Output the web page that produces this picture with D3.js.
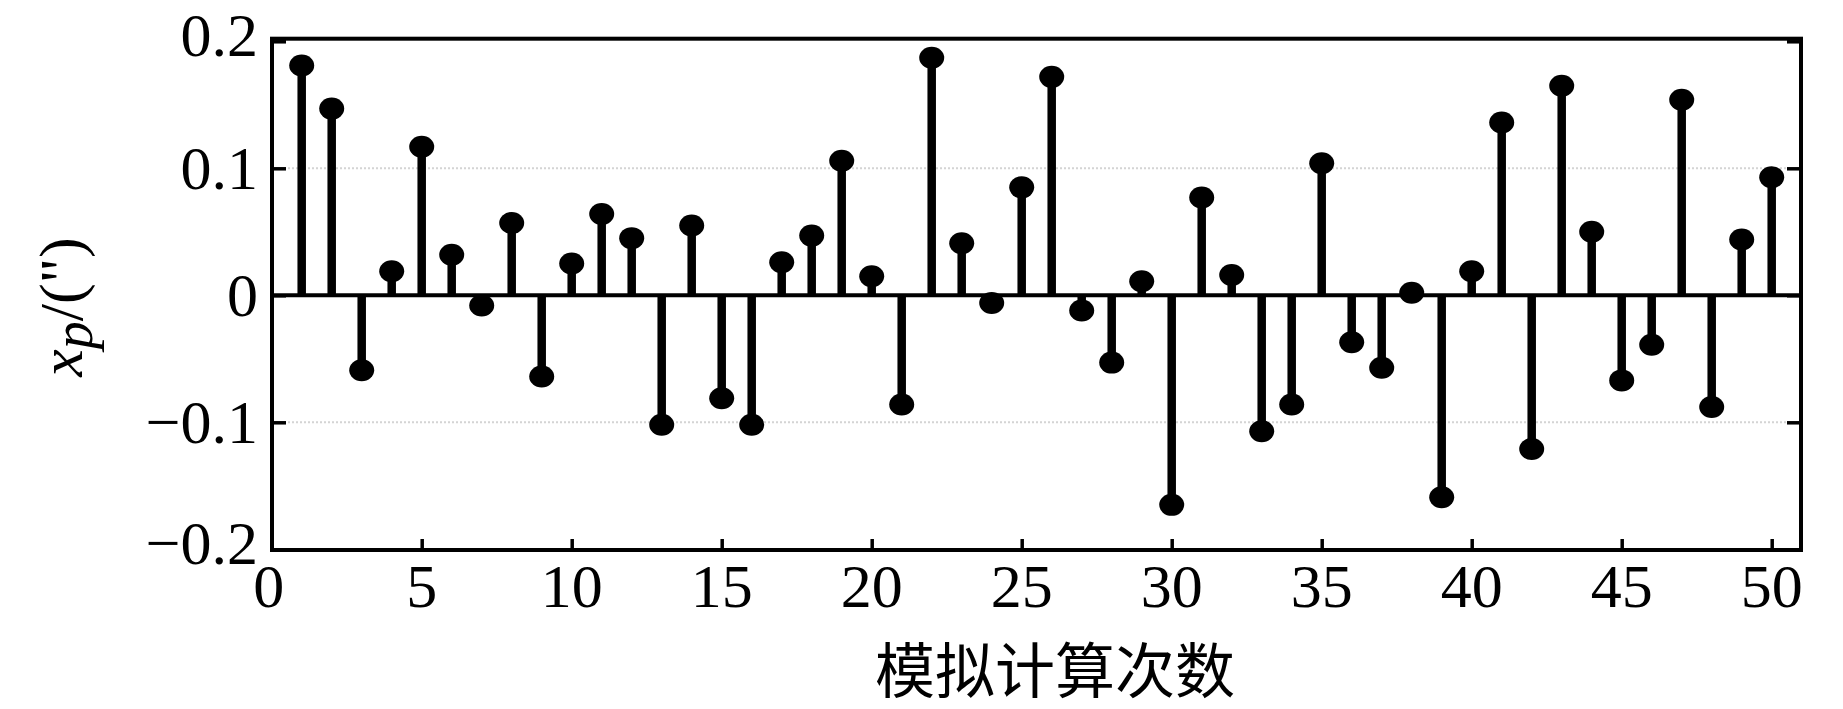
<!DOCTYPE html>
<html>
<head>
<meta charset="utf-8">
<script src="https://cdn.jsdelivr.net/npm/d3@7"></script>
<style>
  html, body { margin: 0; padding: 0; background: #ffffff; }
  svg { display: block; }
</style>
</head>
<body>
<svg id="chart" width="1843" height="709"></svg>
<script>
// ---- data ----
const runs = [1,2,3,4,5,6,7,8,9,10,11,12,13,14,15,16,17,18,19,20,21,22,23,24,25,
              26,27,28,29,30,31,32,33,34,35,36,37,38,39,40,41,42,43,44,45,46,47,48,49,50];
const xpValues = [0.181, 0.147, -0.059, 0.019, 0.117, 0.032, -0.008, 0.057, -0.064, 0.025,
                  0.064, 0.045, -0.102, 0.055, -0.081, -0.102, 0.026, 0.047, 0.106, 0.015,
                  -0.086, 0.187, 0.041, -0.006, 0.085, 0.172, -0.012, -0.053, 0.011, -0.165,
                  0.077, 0.016, -0.107, -0.086, 0.104, -0.037, -0.057, 0.002, -0.159, 0.019,
                  0.136, -0.121, 0.165, 0.050, -0.067, -0.039, 0.154, -0.088, 0.044, 0.093];
const xTicks = [0, 5, 10, 15, 20, 25, 30, 35, 40, 45, 50];
const yTicks = [-0.2, -0.1, 0, 0.1, 0.2];
const yTickLabels = ["\u22120.2", "\u22120.1", "0", "0.1", "0.2"];
const yGridValues = [-0.1, 0.1];
const xTitle = "模拟计算次数";

// ---- layout ----
const svg = d3.select("#chart");
const frame = { left: 272, right: 1801, top: 38.7, bottom: 550 };
const x = d3.scaleLinear().domain([0, 51]).range([271.7, 1801.7]);
const y = d3.scaleLinear().domain([-0.2, 0.2]).range([549.3, 41.3]);
const serif = "'Liberation Serif', 'Times New Roman', serif";

// grid lines
svg.append("g").selectAll("line").data(yGridValues).join("line")
  .attr("x1", frame.left).attr("x2", frame.right)
  .attr("y1", d => y(d)).attr("y2", d => y(d))
  .attr("stroke", "#d4d4d4").attr("stroke-width", 2).attr("stroke-dasharray", "2,2");

// zero baseline
svg.append("line")
  .attr("x1", frame.left).attr("x2", frame.right)
  .attr("y1", y(0)).attr("y2", y(0))
  .attr("stroke", "#000").attr("stroke-width", 4);

// stems
svg.append("g").selectAll("line").data(runs).join("line")
  .attr("x1", (d) => x(d)).attr("x2", (d) => x(d))
  .attr("y1", y(0)).attr("y2", (d, i) => y(xpValues[i]))
  .attr("stroke", "#000").attr("stroke-width", 8.5);

// markers
svg.append("g").selectAll("ellipse").data(runs).join("ellipse")
  .attr("cx", (d) => x(d)).attr("cy", (d, i) => y(xpValues[i]))
  .attr("rx", 12.5).attr("ry", 11)
  .attr("fill", "#000");

// left axis (ticks inward)
const gL = svg.append("g").attr("transform", `translate(${frame.left},0)`)
  .call(d3.axisRight(y).tickValues(yTicks).tickSize(14).tickFormat(""));
gL.select(".domain").remove();
gL.selectAll(".tick line").attr("stroke", "#000").attr("stroke-width", 3.5);

// right axis (ticks inward)
const gR = svg.append("g").attr("transform", `translate(${frame.right},0)`)
  .call(d3.axisLeft(y).tickValues(yTicks).tickSize(14).tickFormat(""));
gR.select(".domain").remove();
gR.selectAll(".tick line").attr("stroke", "#000").attr("stroke-width", 3.5);

// y tick labels
const labelShift = { "-0.2": -6, "0.2": -6 };
svg.append("g").selectAll("text").data(yTicks).join("text")
  .attr("x", 258)
  .attr("y", d => y(d) + (labelShift[String(d)] || 0))
  .attr("dy", "0.34em")
  .attr("text-anchor", "end")
  .attr("font-family", serif).attr("font-size", 62).attr("fill", "#000")
  .text((d, i) => yTickLabels[i]);

// bottom axis (ticks inward)
const gB = svg.append("g").attr("transform", `translate(0,${frame.bottom})`)
  .call(d3.axisTop(x).tickValues(xTicks).tickSize(11).tickFormat(""));
gB.select(".domain").remove();
gB.selectAll(".tick line").attr("stroke", "#000").attr("stroke-width", 3.5);

// x tick labels
svg.append("g").selectAll("text").data(xTicks).join("text")
  .attr("x", d => x(d) - (d === 0 ? 3 : 0))
  .attr("y", 607)
  .attr("text-anchor", "middle")
  .attr("font-family", serif).attr("font-size", 62).attr("fill", "#000")
  .text(d => String(d));

// frame
svg.append("rect")
  .attr("x", frame.left).attr("y", frame.top)
  .attr("width", frame.right - frame.left).attr("height", frame.bottom - frame.top)
  .attr("fill", "none").attr("stroke", "#000").attr("stroke-width", 4);

// x title
svg.append("text")
  .attr("x", 1055).attr("y", 666)
  .attr("dominant-baseline", "central")
  .attr("text-anchor", "middle")
  .attr("font-family", "'Noto Sans CJK SC', sans-serif")
  .attr("font-size", 60).attr("fill", "#000")
  .text(xTitle);

// y title
const yt = svg.append("text")
  .attr("transform", "translate(82,307) rotate(-90)")
  .attr("text-anchor", "middle")
  .attr("font-family", serif).attr("font-size", 62).attr("fill", "#000");
yt.append("tspan").attr("font-style", "italic").text("x");
yt.append("tspan").attr("font-style", "italic").attr("font-size", 56).attr("dy", 10).text("p");
yt.append("tspan").attr("dy", -10).text("/(\")");
</script>
</body>
</html>
